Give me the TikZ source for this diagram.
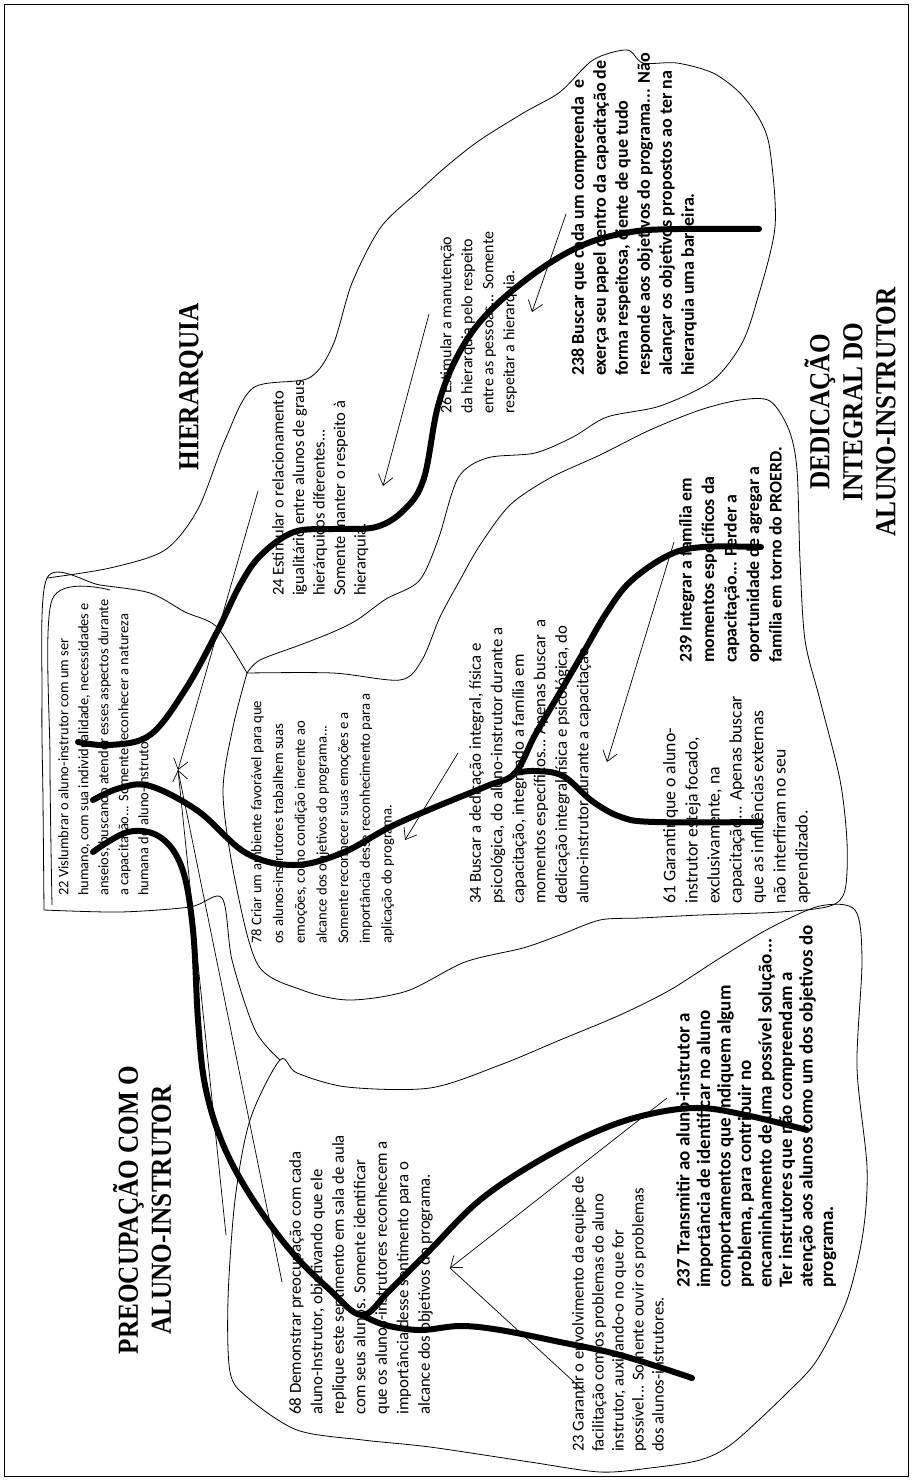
\documentclass[tikz,border=0pt]{standalone}
\usepackage{fontspec}
\newfontfamily\bodyfont{Carlito}
\newfontfamily\headfont{Liberation Serif}
\usetikzlibrary{arrows.meta}
\newcommand{\cond}[1]{\scalebox{0.87}[1]{#1}}
\newcommand{\txtsize}[2]{\fontsize{#1}{#2}\selectfont}
\tikzset{
  region/.style={line width=0.8pt, line join=round},
  link/.style={line width=6pt, line cap=round, line join=round},
  pointer/.style={line width=0.7pt, -{Straight Barb[length=10pt,width=15pt,line width=0.7pt]}},
  block/.style={rotate=90, anchor=north west, inner sep=0pt, align=left},
  heading/.style={rotate=90, inner sep=0pt, align=center, font=\headfont\bfseries\txtsize{29}{33}},
}
\begin{document}
\begin{tikzpicture}[x=1pt,y=-1pt]
\useasboundingbox (0,0) rectangle (912,1480);
\draw[line width=0.6pt] (4,4) rectangle (908,1476);

% headings
\node[heading] (hhier) at (191,387) {\cond{HIERARQUIA}};
\node[heading] (hpre) at (142,1210) {\cond{PREOCUPAÇÃO COM O}\\\cond{ALUNO-INSTRUTOR}};
\node[heading] (hded) at (850,412) {\cond{DEDICAÇÃO}\\\cond{INTEGRAL DO}\\\cond{ALUNO-INSTRUTOR}};

% text blocks
\node[block, font=\bodyfont\txtsize{14.5}{20}] (t22) at (58,896) {22 Vislumbrar o aluno-instrutor com um ser\\humano, com sua individualidade, necessidades e\\anseios, buscando atender esses aspectos durante\\a capacitação... Somente reconhecer a natureza\\humana do aluno-instrutor.};
\node[block, font=\bodyfont\txtsize{14.7}{21.7}] (t78) at (251,944) {78 Criar um ambiente favorável para que\\os alunos-instrutores trabalhem suas\\emoções, como condição inerente ao\\alcance dos objetivos do programa...\\Somente reconhecer suas emoções e a\\importância desse reconhecimento para a\\aplicação do programa.};
\node[block, font=\bodyfont\txtsize{16.5}{20.5}] (t24) at (272,596) {24 Estimular o relacionamento\\igualitário entre alunos de graus\\hierárquicos diferentes...\\Somente manter o respeito à\\hierarquia.};
\node[block, font=\bodyfont\txtsize{16}{21}] (t26) at (440,414) {26 Estimular a manutenção\\da hierarquia pelo respeito\\entre as pessoas... Somente\\respeitar a hierarquia.};
\node[block, font=\bodyfont\bfseries\txtsize{18}{22}] (t238) at (571,376) {238 Buscar que cada um compreenda \ e\\exerça seu papel dentro da capacitação de\\forma respeitosa, ciente de que tudo\\responde aos objetivos do programa... Não\\alcançar os objetivos propostos ao ter na\\hierarquia uma barreira.};
\node[block, font=\bodyfont\txtsize{16.8}{21.5}] (t34) at (469,904) {34 Buscar a dedicação integral, física e\\psicológica, do aluno-instrutor durante a\\capacitação, integrando a família em\\momentos específicos... Apenas buscar \ a\\dedicação integral física e psicológica, do\\aluno-instrutor durante a capacitação.};
\node[block, font=\bodyfont\txtsize{17.7}{22}] (t61) at (663,904) {61 Garantir que o aluno-\\instrutor esteja focado,\\exclusivamente, na\\capacitação... Apenas buscar\\que as influências externas\\não interfiram no seu\\aprendizado.};
\node[block, font=\bodyfont\bfseries\txtsize{17.8}{22.5}] (t239) at (679,663) {239 Integrar a família em\\momentos específicos da\\capacitação... Perder a\\oportunidade de agregar a\\família em torno do PROERD.};
\node[block, font=\bodyfont\txtsize{16.8}{21.5}] (t68) at (289,1415) {68 Demonstrar preocupação com cada\\aluno-Instrutor, objetivando que ele\\replique este sentimento em sala de aula\\com seus alunos. Somente identificar\\que os alunos-instrutores reconhecem a\\importância desse sentimento para o\\alcance dos objetivos do programa.};
\node[block, font=\bodyfont\txtsize{16.6}{20}] (t23) at (572,1452) {23 Garantir o envolvimento da equipe de\\facilitação com os problemas do aluno\\instrutor, auxiliando-o no que for\\possível... Somente ouvir os problemas\\dos alunos-instrutores.};
\node[block, font=\bodyfont\bfseries\txtsize{19}{20.5}] (t237) at (676,1288) {237 Transmitir ao aluno-instrutor a\\importância de identificar no aluno\\comportamentos que indiquem algum\\problema, para contribuir no\\encaminhamento de uma possível solução...\\Ter instrutores que não compreendam a\\atenção aos alunos como um dos objetivos do\\programa.};

% regions
\draw[region] plot[smooth, tension=0.5] coordinates {(47,578) (110,568) (165,550) (198,509) (225,440) (253,388) (309,378) (333,345) (352,283) (381,227) (419,191) (448,165) (480,140) (525,112) (560,92) (593,60) (627,50) (643,63) (677,63) (713,73) (740,93) (760,120) (770,150) (775,227) (756,304) (741,345) (712,381) (660,406) (607,417) (573,437) (535,453) (487,458) (458,478) (438,540) (419,581) (386,599) (357,620) (333,632) (300,645) (260,660) (247,673)};
\draw[region] plot[smooth, tension=0.5] coordinates {(247,673) (333,673) (400,680) (422,660) (440,617) (460,580) (480,545) (510,505) (550,478) (600,455) (650,430) (700,410) (740,400) (770,401) (789,430) (797,470) (800,560) (805,640) (820,700) (840,780) (847,842) (845,890) (830,906) (780,912) (700,915) (640,918) (600,920) (560,935) (523,948) (465,962) (407,991) (349,1000) (302,990) (258,965) (235,880) (223,793) (233,727) (247,673)};
\draw[region] plot[smooth, tension=0.5] coordinates {(44,910) (43,800) (42,700) (47,578) (100,585) (150,593) (185,612) (217,627) (247,673)};
\draw[region] plot[smooth, tension=0.5] coordinates {(52,905) (50,760) (52,600) (110,590)};
\draw[region] plot[smooth, tension=0.5] coordinates {(44,910) (120,912) (190,907) (222,898) (232,960) (255,1030) (280,1060)};
\draw[region] plot[smooth cycle, tension=0.5] coordinates {(280,1060) (297,1073) (347,1087) (430,1088) (500,1065) (560,1040) (620,1015) (670,990) (720,958) (770,928) (820,906) (855,910) (862,960) (857,1067) (867,1167) (863,1233) (847,1300) (817,1360) (787,1393) (733,1443) (700,1460) (650,1468) (600,1472) (530,1462) (430,1447) (363,1440) (297,1430) (247,1397) (230,1372) (228,1300) (235,1200) (250,1120)};

% junctions
\coordinate (hub) at (178,770);
\coordinate (j34) at (515,773);
\coordinate (j68) at (362,1315);
\coordinate (tip68) at (450,1268);

% thick links
\draw[link] plot[smooth, tension=0.6] coordinates {(78,742) (110,745) (150,735) (185,690) (217,632) (240,585) (261,555) (294,532) (333,529) (376,527) (405,509) (424,478) (438,406) (458,355) (487,314) (535,273) (583,245) (631,232) (679,229) (759,229)};
\draw[link] plot[smooth, tension=0.6] coordinates {(93,800) (120,788) (150,786) (198,811) (246,853) (294,865) (342,853) (390,827) (438,806) (487,786) (j34) (535,735) (559,694) (583,653) (607,612) (631,581) (669,555) (703,547) (761,547)};
\draw[link] plot[smooth, tension=0.6] coordinates {(j34) (535,771) (563,776) (592,801) (621,817) (655,822) (761,822)};
\draw[link] plot[smooth, tension=0.6] coordinates {(93,852) (128,832) (160,837) (182,868) (193,930) (198,1020) (205,1085) (222,1142) (250,1195) (290,1250) (330,1290) (j68) (390,1290) (430,1250) (480,1200) (540,1160) (600,1130) (650,1114) (700,1108) (750,1116) (807,1130)};
\draw[link] plot[smooth, tension=0.6] coordinates {(j68) (385,1325) (420,1330) (460,1326) (500,1330) (560,1342) (620,1355) (692,1378)};

% thin arrows
\draw[pointer] (429,314) -- (383,486);
\draw[pointer] (566,214) -- (532,312);
\draw[pointer] (458,753) -- (405,840);
\draw[pointer] (674,542) -- (607,762);
\draw[pointer] (667,1098) -- (tip68);
\draw[line width=0.7pt] (585,1392) -- (tip68);
\draw[pointer] (258,491) -- (hub);
\draw[pointer] (282,1282) -- (hub);
\draw[line width=0.7pt] (hub) -- (226,1235);
\end{tikzpicture}
\end{document}
